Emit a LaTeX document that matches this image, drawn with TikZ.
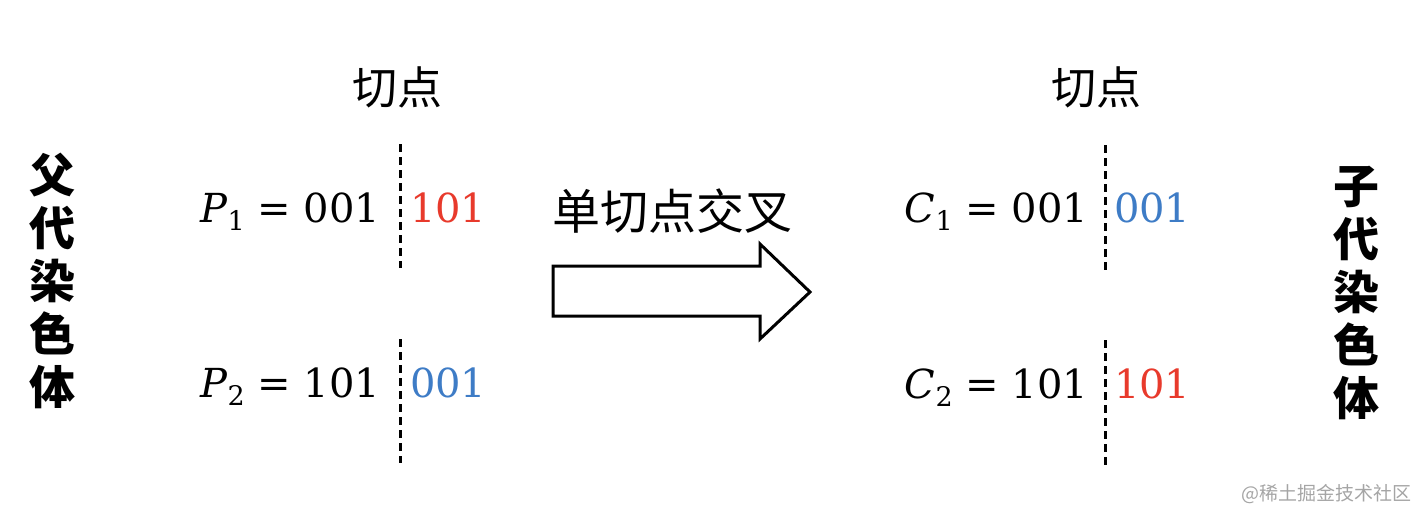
\documentclass[tikz,border=0pt]{standalone}
\usepackage{fontspec}
\newfontfamily\cjk{Noto Sans CJK SC}
\newfontfamily\numfont{DejaVu Serif}
\definecolor{cred}{RGB}{232,58,44}
\definecolor{cblue}{RGB}{62,124,198}
\definecolor{wmgray}{RGB}{165,165,165}
\newcommand{\gene}[2]{\textit{#1}\raisebox{-0.22em}{\fontsize{13.5}{15}\selectfont #2}}
\begin{document}
\begin{tikzpicture}[x=0.5pt,y=-0.5pt,
  every node/.style={inner sep=0pt,outer sep=0pt},
  eq/.style={font=\numfont\fontsize{20}{24}\selectfont},
  cutlbl/.style={font=\cjk\fontsize{22.5}{26}\selectfont},
  sidelbl/.style={font=\cjk\bfseries\fontsize{23}{26.5}\selectfont,align=center},
  cutline/.style={line width=1.5pt,dash pattern=on 4pt off 2.5pt},
  bigarrow/.style={line width=1.5pt,fill=white,line join=miter}]
\useasboundingbox (0,0) rectangle (1418,510);
% side labels
\node[sidelbl] (parents) at (52,281) {父\\代\\染\\色\\体};
\node[sidelbl] (children) at (1356,293) {子\\代\\染\\色\\体};
% cut point labels
\node[cutlbl] (cutL) at (397,87) {切点};
\node[cutlbl] (cutR) at (1096,87) {切点};
% parents
\node[eq,anchor=base east] (p1) at (380,222) {\gene{P}{1} = 001};
\node[eq,anchor=base west,text=cred] (p1r) at (410,222) {101};
\node[eq,anchor=base east] (p2) at (380,397) {\gene{P}{2} = 101};
\node[eq,anchor=base west,text=cblue] (p2r) at (410,397) {001};
\coordinate (d1t) at (400,144); \coordinate (d1b) at (400,268);
\coordinate (d2t) at (400,339); \coordinate (d2b) at (400,463);
\draw[cutline] (d1t) -- (d1b);
\draw[cutline] (d2t) -- (d2b);
% children
\node[eq,anchor=base east] (c1) at (1088,222) {\gene{C}{1} = 001};
\node[eq,anchor=base west,text=cblue] (c1r) at (1114,222) {001};
\node[eq,anchor=base east] (c2) at (1088,398) {\gene{C}{2} = 101};
\node[eq,anchor=base west,text=cred] (c2r) at (1114,398) {101};
\coordinate (e1t) at (1105,145); \coordinate (e1b) at (1105,270);
\coordinate (e2t) at (1105,340); \coordinate (e2b) at (1105,465);
\draw[cutline] (e1t) -- (e1b);
\draw[cutline] (e2t) -- (e2b);
% arrow
\node[cutlbl,font=\cjk\fontsize{24}{28}\selectfont] (op) at (672,211) {单切点交叉};
\draw[bigarrow] (553,266) -- (760,266) -- (760,244) -- (810,292) -- (760,339) -- (760,316) -- (553,316) -- cycle;
% watermark
\node[font=\cjk\fontsize{9.5}{11}\selectfont,text=wmgray,anchor=east] (wm) at (1411,494) {@稀土掘金技术社区};
\end{tikzpicture}
\end{document}
